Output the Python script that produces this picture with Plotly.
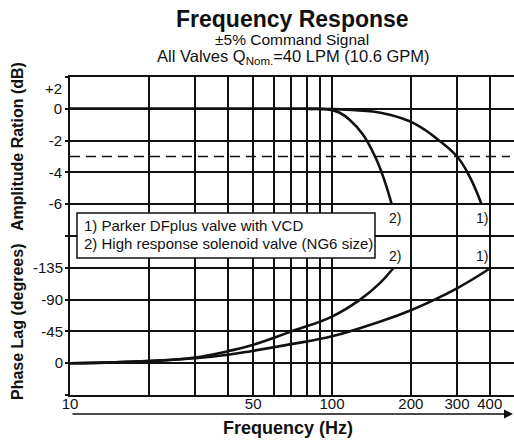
import math
import plotly.graph_objects as go

# Amplitude response (dB) vs frequency (Hz)
amp_freq_dfplus = [10, 20, 50, 80, 100, 120, 143, 166, 187, 204, 226, 243, 300, 336, 372]
amp_db_dfplus = [0, 0, 0, 0, -0.02, -0.08, -0.17, -0.38, -0.63, -0.88, -1.32, -1.7, -3.0, -4.3, -6.0]

amp_freq_solenoid = [10, 50, 80, 98, 107, 117, 131, 146, 157, 169]
amp_db_solenoid = [0, 0, 0, -0.05, -0.25, -0.7, -1.6, -3.0, -4.3, -6.0]

# Phase lag (degrees) vs frequency (Hz)
ph_freq_dfplus = [10, 20, 30, 40, 49, 70, 100, 150, 200, 300, 400]
ph_deg_dfplus = [0, -3, -7, -12, -17, -27, -38, -58, -75, -106, -134]

ph_freq_solenoid = [10, 20, 30, 40, 49, 70, 100, 128, 152, 171]
ph_deg_solenoid = [0, -3, -8, -17, -25, -45, -66, -90, -113, -134]

cutoff_db = -3  # -3 dB reference line
cutoff_span_hz = [10, 478]

# Axis ticks
freq_ticks = [10, 20, 30, 40, 50, 60, 70, 80, 90, 100, 200, 300, 400]
freq_labels = ["10", "", "", "", "50", "", "", "", "", "100", "200", "300", "400"]
amp_ticks = [2, 0, -2, -4, -6, -8, -10, -12, -14, -16, -18]
amp_labels = ["", "0", "-2", "-4", "-6", "", "", "", "", "", ""]
phase_ticks = [0, -45, -90, -135]
phase_labels = ["0", "-45", "-90", "-135"]

legend_lines = ["1) Parker DFplus valve with VCD",
                "2) High response solenoid valve (NG6 size)"]
curve_tags = [("2)", 174, "amp"), ("1)", 374, "amp"),
              ("2)", 174, "phase"), ("1)", 374, "phase")]

FONT = "Liberation Sans, Arial, Helvetica, sans-serif"
INK = "#111111"

fig = go.Figure()

curve_style = dict(color=INK, width=2.6, shape="spline", smoothing=1.2)

fig.add_trace(go.Scatter(x=cutoff_span_hz, y=[cutoff_db, cutoff_db], mode="lines",
                         line=dict(color=INK, width=1.5, dash="10px,6px"),
                         yaxis="y", hoverinfo="skip"))
fig.add_trace(go.Scatter(x=amp_freq_dfplus, y=amp_db_dfplus, mode="lines",
                         line=curve_style, yaxis="y"))
fig.add_trace(go.Scatter(x=amp_freq_solenoid, y=amp_db_solenoid, mode="lines",
                         line=curve_style, yaxis="y"))
fig.add_trace(go.Scatter(x=ph_freq_dfplus, y=ph_deg_dfplus, mode="lines",
                         line=curve_style, yaxis="y2"))
fig.add_trace(go.Scatter(x=ph_freq_solenoid, y=ph_deg_solenoid, mode="lines",
                         line=curve_style, yaxis="y2"))

# plot area geometry in pixels
L, T, W, H = 70, 77, 444, 318


def px(xp):
    return (xp - L) / W


def py(yp):
    return (T + H - yp) / H


annotations = []

# curve tags
for text, f, which in curve_tags:
    annotations.append(dict(
        x=math.log10(f), y=-6 if which == "amp" else -135,
        xref="x", yref="y" if which == "amp" else "y2",
        text=text, showarrow=False, xanchor="center",
        yanchor="top" if which == "amp" else "bottom",
        yshift=-4 if which == "amp" else 2,
        font=dict(family=FONT, size=14, color=INK)))

# "+2" sits just under the top border
annotations.append(dict(x=0, y=2, xref="paper", yref="y", text="+2",
                        showarrow=False, xanchor="right", yanchor="middle",
                        xshift=-6, yshift=-11,
                        font=dict(family=FONT, size=15, color=INK)))

# legend text
for i, line in enumerate(legend_lines):
    annotations.append(dict(x=px(82), y=py(225 + 18 * i), xref="paper", yref="paper",
                            text=line, showarrow=False, xanchor="left", yanchor="middle",
                            font=dict(family=FONT, size=15, color=INK)))

# titles
annotations += [
    dict(x=px(292), y=py(19), xref="paper", yref="paper", text="<b>Frequency Response</b>",
         showarrow=False, xanchor="center", yanchor="middle",
         font=dict(family=FONT, size=23, color=INK)),
    dict(x=px(292), y=py(39), xref="paper", yref="paper", text="±5% Command Signal",
         showarrow=False, xanchor="center", yanchor="middle",
         font=dict(family=FONT, size=15.5, color=INK)),
    dict(x=px(293), y=py(57), xref="paper", yref="paper",
         text="All Valves Q<sub>Nom.</sub>=40 LPM (10.6 GPM)",
         showarrow=False, xanchor="center", yanchor="middle",
         font=dict(family=FONT, size=16.5, color=INK)),
    dict(x=px(288), y=py(428), xref="paper", yref="paper", text="<b>Frequency (Hz)</b>",
         showarrow=False, xanchor="center", yanchor="middle",
         font=dict(family=FONT, size=18, color=INK)),
    dict(x=px(17), y=py(147), xref="paper", yref="paper", text="<b>Amplitude Ration (dB)</b>",
         showarrow=False, textangle=-90, xanchor="center", yanchor="middle",
         font=dict(family=FONT, size=16, color=INK)),
    dict(x=px(17), y=py(322), xref="paper", yref="paper", text="<b>Phase Lag (degrees)</b>",
         showarrow=False, textangle=-90, xanchor="center", yanchor="middle",
         font=dict(family=FONT, size=16, color=INK)),
    # frequency arrow under the axis
    dict(x=px(513), y=py(414), xref="paper", yref="paper", text="",
         showarrow=True, arrowhead=2, arrowsize=1.2, arrowwidth=1.5, arrowcolor=INK,
         ax=-(513 - 71), ay=0, axref="pixel", ayref="pixel"),
]

fig.update_layout(
    width=514, height=444, autosize=False,
    margin=dict(l=L, r=514 - L - W, t=T, b=444 - T - H),
    paper_bgcolor="white", plot_bgcolor="white",
    showlegend=False,
    font=dict(family=FONT, size=15, color=INK),
    xaxis=dict(type="log", range=[1, 1 + W / 262], tickvals=freq_ticks, ticktext=freq_labels,
               showgrid=True, gridcolor=INK, gridwidth=1.7,
               showline=True, linecolor=INK, linewidth=2, mirror=True,
               ticks="", ticklabelstandoff=-6,
               tickfont=dict(family=FONT, size=15, color=INK), zeroline=False),
    yaxis=dict(range=[-18, 2], tickvals=amp_ticks, ticktext=amp_labels,
               showgrid=True, gridcolor=INK, gridwidth=1.7,
               showline=True, linecolor=INK, linewidth=2,
               ticks="outside", ticklen=3, tickwidth=1.5, tickcolor=INK,
               tickfont=dict(family=FONT, size=15, color=INK), zeroline=False),
    yaxis2=dict(range=[45, -405], overlaying="y", side="left", anchor="x",
                tickvals=phase_ticks, ticktext=phase_labels, showgrid=False,
                ticks="outside", ticklen=3, tickwidth=1.5, tickcolor=INK,
                tickfont=dict(family=FONT, size=15, color=INK), zeroline=False,
                showline=False),
    shapes=[dict(type="rect", xref="paper", yref="paper",
                 x0=px(77), x1=px(375), y0=py(258), y1=py(213),
                 fillcolor="white", line=dict(color=INK, width=1.5), layer="above")],
    annotations=annotations,
)

fig.write_html("out.html")
